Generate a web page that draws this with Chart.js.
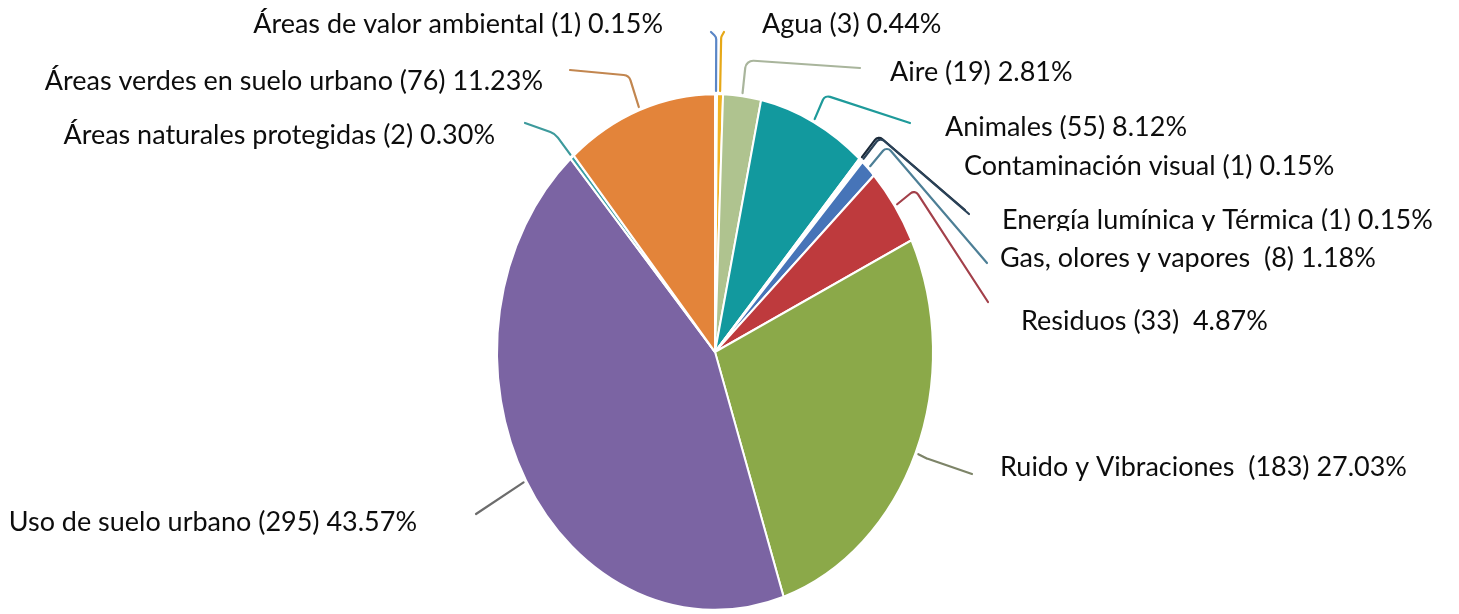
<!DOCTYPE html>
<html>
<head>
<meta charset="utf-8">
<script src="https://cdn.jsdelivr.net/npm/chart.js@4.4.0/dist/chart.umd.min.js"></script>
<style>
  html, body { margin: 0; padding: 0; background: #ffffff; }
  #wrap { position: relative; width: 1459px; height: 614px; }
  canvas { display: block; }
</style>
</head>
<body>
<div id="wrap"><canvas id="chart" width="1459" height="614"></canvas></div>
<script>
// Denuncias ambientales por tema (total 677)
const categories = [
  'Áreas de valor ambiental',
  'Agua',
  'Aire',
  'Animales',
  'Contaminación visual',
  'Energía lumínica y Térmica',
  'Gas, olores y vapores',
  'Residuos',
  'Ruido y Vibraciones',
  'Uso de suelo urbano',
  'Áreas naturales protegidas',
  'Áreas verdes en suelo urbano'
];
const counts = [1, 3, 19, 55, 1, 1, 8, 33, 183, 295, 2, 76];

const sliceColors = [
  '#5a86c6', '#f0b323', '#afc38f', '#12999e', '#1e3148', '#2c4a64',
  '#4674b8', '#be3a3d', '#8ba949', '#7b64a3', '#3a9fa5', '#e3843a'
];
const leaderColors = [
  '#5a86c6', '#e6a817', '#a9b59c', '#1e9a9a', '#1a2838', '#2a4258',
  '#4d7f96', '#a3404a', '#7d8468', '#6c6c6c', '#3d9a9c', '#c2864f'
];
// number of spaces before "(n)" and before the percentage
const gaps = [[1,1],[1,1],[1,1],[1,1],[1,1],[1,1],[2,1],[1,2],[2,1],[1,1],[1,1],[1,1]];

// label placement: side, anchor x (left edge or right edge), baseline,
// radial run of the leader and where the leader stops
const labelLayout = [
  { side: 'left',  x: 663,  y: 33,  ext: 54, end: [711, 32], r: 6 },
  { side: 'right', x: 762,  y: 33,  ext: 54, end: [724, 32], r: 6 },
  { side: 'right', x: 890,  y: 81,  ext: 33, end: [860, 68], r: 8 },
  { side: 'right', x: 945,  y: 136, ext: 26, end: [910, 123], r: 6 },
  { side: 'right', x: 964,  y: 175, ext: 27, end: [965, 210], r: 5 },
  { side: 'right', x: 1002, y: 229, ext: 27, end: [969, 214], r: 5 },
  { side: 'right', x: 1000, y: 267, ext: 26, end: [987, 263], r: 5 },
  { side: 'right', x: 1021, y: 330, ext: 23, end: [988, 302], r: 5 },
  { side: 'right', x: 1000, y: 476, ext: 10, end: [972, 474], r: 8 },
  { side: 'left',  x: 417,  y: 531, ext: 0,  end: [476, 514], r: 0 },
  { side: 'left',  x: 495,  y: 144, ext: 26, end: [525, 123], r: 16 },
  { side: 'left',  x: 543,  y: 90,  ext: 33, end: [570, 70], r: 8 }
];

const W = 1459, H = 614;
const CX = 715, CY = 352, RX = 218, RY = 258;
const K = RY / RX;
const FONT = 'Lato, "Open Sans", sans-serif';

const total = counts.reduce((a, b) => a + b, 0);
function labelText(i) {
  const pct = (counts[i] / total * 100).toFixed(2);
  return categories[i] + ' '.repeat(gaps[i][0]) + '(' + counts[i] + ')' + ' '.repeat(gaps[i][1]) + pct + '%';
}

// the pie is drawn as an ellipse, stretched vertically about its centre
const ellipsePlugin = {
  id: 'ellipse',
  beforeDatasetsDraw(chart) {
    const a = chart.getDatasetMeta(0).data[0];
    const ctx = chart.ctx;
    ctx.save();
    ctx.translate(a.x, a.y);
    ctx.scale(1, K);
    ctx.translate(-a.x, -a.y);
  },
  afterDatasetsDraw(chart) {
    chart.ctx.restore();
  }
};

const labelPlugin = {
  id: 'calloutLabels',
  afterDraw(chart) {
    const ctx = chart.ctx;
    const arcs = chart.getDatasetMeta(0).data;

    // font size chosen so the text runs as wide as the layout expects
    ctx.save();
    ctx.font = '100px ' + FONT;
    const sample = [9, 8, 11, 5];
    const target = 407 + 402 + 500 + 435;
    const measured = sample.reduce((s, i) => s + ctx.measureText(labelText(i)).width, 0);
    const size = 100 * target / measured;
    ctx.restore();

    // leader lines
    arcs.forEach((arc, i) => {
      const L = labelLayout[i];
      const mid = (arc.startAngle + arc.endAngle) / 2;
      const R = arc.outerRadius;
      const dx = Math.cos(mid) * R, dy = Math.sin(mid) * R * K;
      const len = Math.hypot(dx, dy);
      const ux = dx / len, uy = dy / len;
      const x0 = arc.x + dx + ux * 3, y0 = arc.y + dy + uy * 3;
      const x1 = x0 + ux * L.ext, y1 = y0 + uy * L.ext;
      ctx.save();
      ctx.strokeStyle = leaderColors[i];
      ctx.lineWidth = 2.2;
      ctx.lineJoin = 'round';
      ctx.lineCap = 'round';
      ctx.beginPath();
      ctx.moveTo(x0, y0);
      if (L.ext > 0) ctx.arcTo(x1, y1, L.end[0], L.end[1], L.r);
      ctx.lineTo(L.end[0], L.end[1]);
      ctx.stroke();
      ctx.restore();
    });

    // label texts on white boxes
    ctx.save();
    ctx.font = size.toFixed(2) + 'px ' + FONT;
    ctx.textBaseline = 'alphabetic';
    ctx.textAlign = 'left';
    labelLayout.forEach((L, i) => {
      const t = labelText(i);
      const w = ctx.measureText(t).width;
      const left = L.side === 'left' ? L.x - w : L.x;
      ctx.fillStyle = '#ffffff';
      ctx.fillRect(left - 4, L.y - 36, w + 8, 46);
      ctx.fillStyle = '#0d0d0d';
      ctx.fillText(t, left, L.y);
    });
    ctx.restore();
  }
};

new Chart(document.getElementById('chart'), {
  type: 'pie',
  data: {
    labels: categories,
    datasets: [{
      data: counts,
      backgroundColor: sliceColors,
      borderColor: '#ffffff',
      borderWidth: 2,
      radius: RX,
      clip: false
    }]
  },
  options: {
    responsive: false,
    animation: false,
    devicePixelRatio: 1,
    events: [],
    layout: { padding: { left: CX - RX, right: W - CX - RX, top: CY - RX, bottom: H - CY - RX } },
    plugins: { legend: { display: false }, tooltip: { enabled: false } }
  },
  plugins: [ellipsePlugin, labelPlugin]
});
</script>
</body>
</html>
